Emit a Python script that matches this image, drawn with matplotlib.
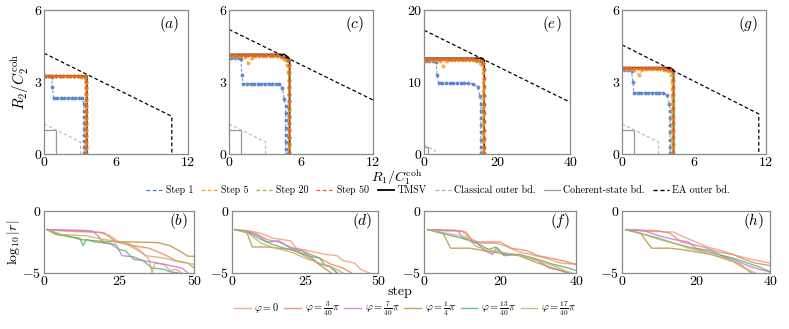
import matplotlib
matplotlib.use('Agg')
import matplotlib.pyplot as plt
from matplotlib.lines import Line2D

plt.rcParams['font.family'] = 'cmr10'
plt.rcParams['mathtext.fontset'] = 'cm'
plt.rcParams['axes.formatter.use_mathtext'] = True

# ---------------- top row data: (R1, R2) points ----------------
CLASSICAL = [(0, 1.25), (3.05, 0.5), (3.05, 0)]
COHERENT = [(0, 1.0), (1.0, 1.0), (1.0, 0)]

# panel (a)
A_EA = [(0, 4.2), (10.65, 1.57), (10.65, 0)]
A_TMSV = [(0, 3.27), (3.55, 3.27), (3.55, 0)]
A_STEP1 = [(0.15, 3.25), (0.45, 3.24), (0.65, 3.2), (0.7, 2.8), (0.8, 2.33), (1.1, 2.33),
           (1.4, 2.33), (1.7, 2.33), (2.0, 2.33), (2.3, 2.33), (2.6, 2.33), (2.9, 2.33),
           (3.15, 2.32), (3.3, 2.1), (3.35, 1.8), (3.35, 1.55), (3.35, 1.3), (3.35, 1.05),
           (3.35, 0.8), (3.35, 0.55), (3.35, 0.3), (3.35, 0.05)]
A_STEP5 = [(0.1, 3.25), (0.4, 3.25), (0.7, 3.24), (1.0, 3.25), (1.3, 3.23), (1.6, 3.25),
           (1.9, 3.24), (2.2, 3.25), (2.5, 3.24), (2.8, 3.23), (3.1, 3.22), (3.4, 3.15),
           (3.48, 2.95), (3.5, 2.7), (3.5, 2.45), (3.5, 2.2), (3.5, 1.95), (3.5, 1.7),
           (3.5, 1.45), (3.5, 1.2), (3.5, 0.95), (3.5, 0.7), (3.5, 0.45), (3.5, 0.2), (3.5, 0.02)]
A_STEP20 = [(0.1, 3.26), (0.4, 3.26), (0.7, 3.26), (1.0, 3.26), (1.3, 3.26), (1.6, 3.26),
            (1.9, 3.26), (2.2, 3.26), (2.5, 3.26), (2.8, 3.26), (3.1, 3.25), (3.4, 3.2),
            (3.52, 3.0), (3.52, 2.75), (3.52, 2.5), (3.52, 2.25), (3.52, 2.0), (3.52, 1.75),
            (3.52, 1.5), (3.52, 1.25), (3.52, 1.0), (3.52, 0.75), (3.52, 0.5), (3.52, 0.25), (3.52, 0.02)]
A_STEP50 = [(0.1, 3.27), (0.4, 3.27), (0.7, 3.27), (1.0, 3.27), (1.3, 3.27), (1.6, 3.27),
            (1.9, 3.27), (2.2, 3.27), (2.5, 3.27), (2.8, 3.27), (3.1, 3.27), (3.4, 3.25),
            (3.54, 3.05), (3.54, 2.8), (3.54, 2.55), (3.54, 2.3), (3.54, 2.05), (3.54, 1.8),
            (3.54, 1.55), (3.54, 1.3), (3.54, 1.05), (3.54, 0.8), (3.54, 0.55), (3.54, 0.3), (3.54, 0.05)]

# panel (c)
C_EA = [(0, 5.19), (12, 2.25)]
C_TMSV = [(0, 4.15), (4.6, 4.15), (4.9, 4.05), (5.05, 3.95), (5.05, 0)]
C_STEP1 = [(0.2, 4.0), (0.5, 4.0), (0.8, 4.0), (1.0, 3.95), (1.05, 3.3), (1.2, 2.93),
           (1.5, 2.93), (1.8, 2.93), (2.1, 2.93), (2.4, 2.93), (2.7, 2.93), (3.0, 2.93),
           (3.3, 2.93), (3.6, 2.93), (3.9, 2.92), (4.2, 2.9), (4.45, 2.75), (4.6, 2.3),
           (4.72, 2.0), (4.72, 1.7), (4.72, 1.4), (4.72, 1.1), (4.72, 0.8), (4.72, 0.5),
           (4.72, 0.2), (4.72, 0.02)]
C_STEP5 = [(0.1, 4.1), (0.4, 4.1), (0.7, 4.1), (1.0, 4.1), (1.3, 4.05), (1.6, 3.8),
           (1.9, 4.0), (2.2, 4.1), (2.5, 4.1), (2.8, 4.1), (3.1, 4.1), (3.4, 4.1),
           (3.7, 4.08), (4.0, 4.08), (4.3, 4.05), (4.6, 3.95), (4.85, 3.7), (4.95, 3.4),
           (4.97, 3.1), (4.97, 2.8), (4.97, 2.5), (4.97, 2.2), (4.97, 1.9), (4.97, 1.6),
           (4.97, 1.3), (4.97, 1.0), (4.97, 0.7), (4.97, 0.4), (4.97, 0.1)]
C_STEP20 = [(0.1, 4.12), (0.4, 4.12), (0.7, 4.12), (1.0, 4.12), (1.3, 4.12), (1.6, 4.12),
            (1.9, 4.12), (2.2, 4.12), (2.5, 4.12), (2.8, 4.12), (3.1, 4.12), (3.4, 4.12),
            (3.7, 4.11), (4.0, 4.1), (4.3, 4.08), (4.6, 4.02), (4.85, 3.9), (5.0, 3.65),
            (5.0, 3.35), (5.0, 3.05), (5.0, 2.75), (5.0, 2.45), (5.0, 2.15), (5.0, 1.85),
            (5.0, 1.55), (5.0, 1.25), (5.0, 0.95), (5.0, 0.65), (5.0, 0.35), (5.0, 0.05)]
C_STEP50 = [(0.1, 4.13), (0.4, 4.13), (0.7, 4.13), (1.0, 4.13), (1.3, 4.13), (1.6, 4.13),
            (1.9, 4.13), (2.2, 4.13), (2.5, 4.13), (2.8, 4.13), (3.1, 4.13), (3.4, 4.13),
            (3.7, 4.12), (4.0, 4.11), (4.3, 4.09), (4.6, 4.04), (4.9, 3.92), (5.02, 3.7),
            (5.02, 3.4), (5.02, 3.1), (5.02, 2.8), (5.02, 2.5), (5.02, 2.2), (5.02, 1.9),
            (5.02, 1.6), (5.02, 1.3), (5.02, 1.0), (5.02, 0.7), (5.02, 0.4), (5.02, 0.1)]

# panel (e)
E_EA = [(0, 17.2), (40, 7.2)]
E_TMSV = [(0, 13.3), (16.0, 13.3), (16.5, 13.0), (16.5, 0)]
E_STEP1 = [(0.5, 12.9), (1.5, 12.9), (2.5, 12.9), (3.3, 12.8), (3.6, 11.0), (4.0, 9.8),
           (5.0, 9.8), (6.0, 9.8), (7.0, 9.8), (8.0, 9.8), (9.0, 9.8), (10.0, 9.8),
           (11.0, 9.8), (12.0, 9.8), (13.5, 9.75), (14.8, 9.3), (15.3, 8.0), (15.6, 7.0),
           (15.6, 6.0), (15.6, 5.0), (15.6, 4.0), (15.6, 3.0), (15.6, 2.0), (15.6, 1.0), (15.6, 0.1)]
E_STEP5 = [(0.3, 13.1), (1.3, 13.1), (2.3, 13.1), (3.3, 13.1), (4.3, 12.9), (5.3, 12.2),
           (6.3, 12.9), (7.3, 13.1), (8.3, 13.1), (9.3, 13.1), (10.3, 13.1), (11.3, 13.1),
           (12.3, 13.05), (13.3, 13.0), (14.3, 12.9), (15.3, 12.7), (16.0, 12.3), (16.2, 11.2),
           (16.2, 10.0), (16.2, 8.8), (16.2, 7.6), (16.2, 6.4), (16.2, 5.2), (16.2, 4.0),
           (16.2, 2.8), (16.2, 1.6), (16.2, 0.4)]
E_STEP20 = [(0.3, 13.2), (1.3, 13.2), (2.3, 13.2), (3.3, 13.2), (4.3, 13.2), (5.3, 13.2),
            (6.3, 13.2), (7.3, 13.2), (8.3, 13.2), (9.3, 13.2), (10.3, 13.2), (11.3, 13.2),
            (12.3, 13.2), (13.3, 13.15), (14.3, 13.1), (15.3, 12.95), (16.1, 12.6), (16.4, 11.6),
            (16.4, 10.4), (16.4, 9.2), (16.4, 8.0), (16.4, 6.8), (16.4, 5.6), (16.4, 4.4),
            (16.4, 3.2), (16.4, 2.0), (16.4, 0.8)]
E_STEP50 = [(0.5, 13.22), (1.5, 13.22), (2.5, 13.22), (3.5, 13.22), (4.5, 13.22), (5.5, 13.22),
            (6.5, 13.22), (7.5, 13.22), (8.5, 13.22), (9.5, 13.22), (10.5, 13.22), (11.5, 13.22),
            (12.5, 13.2), (13.5, 13.18), (14.5, 13.12), (15.5, 13.0), (16.2, 12.7), (16.45, 11.8),
            (16.45, 10.6), (16.45, 9.4), (16.45, 8.2), (16.45, 7.0), (16.45, 5.8), (16.45, 4.6),
            (16.45, 3.4), (16.45, 2.2), (16.45, 1.0), (16.45, 0.1)]

# panel (g)
G_EA = [(0, 4.55), (11.4, 1.67), (11.4, 0)]
G_TMSV = [(0, 3.6), (4.0, 3.6), (4.3, 3.5), (4.3, 0)]
G_STEP1 = [(0.2, 3.5), (0.5, 3.5), (0.8, 3.45), (0.9, 3.0), (1.0, 2.56), (1.3, 2.56),
           (1.6, 2.56), (1.9, 2.56), (2.2, 2.56), (2.5, 2.56), (2.8, 2.56), (3.1, 2.56),
           (3.4, 2.55), (3.75, 2.45), (3.95, 2.1), (4.0, 1.8), (4.0, 1.5), (4.0, 1.2),
           (4.0, 0.9), (4.0, 0.6), (4.0, 0.3), (4.0, 0.05)]
G_STEP5 = [(0.1, 3.55), (0.4, 3.55), (0.7, 3.55), (1.0, 3.5), (1.4, 3.3), (1.7, 3.5),
           (2.0, 3.55), (2.3, 3.55), (2.6, 3.55), (2.9, 3.55), (3.2, 3.54), (3.5, 3.52),
           (3.8, 3.45), (4.05, 3.3), (4.15, 3.0), (4.15, 2.7), (4.15, 2.4), (4.15, 2.1),
           (4.15, 1.8), (4.15, 1.5), (4.15, 1.2), (4.15, 0.9), (4.15, 0.6), (4.15, 0.3), (4.15, 0.02)]
G_STEP20 = [(0.1, 3.57), (0.4, 3.57), (0.7, 3.57), (1.0, 3.57), (1.3, 3.57), (1.6, 3.57),
            (1.9, 3.57), (2.2, 3.57), (2.5, 3.57), (2.8, 3.57), (3.1, 3.57), (3.4, 3.56),
            (3.7, 3.54), (4.0, 3.48), (4.22, 3.3), (4.25, 3.0), (4.25, 2.7), (4.25, 2.4),
            (4.25, 2.1), (4.25, 1.8), (4.25, 1.5), (4.25, 1.2), (4.25, 0.9), (4.25, 0.6),
            (4.25, 0.3), (4.25, 0.02)]
G_STEP50 = [(0.1, 3.58), (0.4, 3.58), (0.7, 3.58), (1.0, 3.58), (1.3, 3.58), (1.6, 3.58),
            (1.9, 3.58), (2.2, 3.58), (2.5, 3.58), (2.8, 3.58), (3.1, 3.58), (3.4, 3.57),
            (3.7, 3.56), (4.0, 3.52), (4.25, 3.4), (4.28, 3.1), (4.28, 2.8), (4.28, 2.5),
            (4.28, 2.2), (4.28, 1.9), (4.28, 1.6), (4.28, 1.3), (4.28, 1.0), (4.28, 0.7),
            (4.28, 0.4), (4.28, 0.1)]

# ---------------- bottom row data: (step, log10|r|) ----------------
B_PHI0 = [(1, -1.5), (8, -1.65), (18, -1.7), (22, -2.0), (25, -2.5), (28, -2.6), (31, -3.0),
          (33, -3.4), (35, -3.9), (36, -5.0), (37, -4.2), (40, -4.3), (42, -4.8), (44, -4.7), (46, -5.0)]
B_PHI3 = [(1, -1.5), (10, -1.6), (20, -1.75), (24, -2.5), (30, -2.8), (35, -3.0), (40, -3.5),
          (44, -4.0), (48, -4.2), (50, -4.6)]
B_PHI7 = [(1, -1.5), (12, -1.55), (16, -1.6), (18, -2.0), (20, -2.6), (24, -2.7), (26, -3.6),
          (30, -3.7), (33, -4.0), (38, -4.2), (42, -4.4), (46, -4.6), (48, -5.0)]
B_PHI10 = [(1, -1.5), (4, -1.9), (8, -2.0), (12, -2.3), (20, -2.45), (30, -2.5), (38, -2.55),
           (42, -2.8), (45, -3.2), (48, -3.65), (50, -3.65)]
B_PHI13 = [(1, -1.5), (5, -1.9), (9, -2.1), (12, -2.2), (13, -2.8), (14, -2.3), (17, -2.5),
           (22, -2.6), (25, -3.1), (27, -3.2), (30, -3.9), (33, -4.0), (36, -4.6), (40, -4.7),
           (42, -4.9), (45, -5.0)]
B_PHI17 = [(1, -1.5), (6, -1.9), (14, -2.0), (20, -2.3), (26, -2.5), (30, -3.0), (34, -3.6),
           (40, -3.8), (45, -4.1), (50, -4.3)]

D_PHI0 = [(1, -1.5), (6, -1.6), (10, -1.8), (14, -2.2), (20, -2.4), (22, -3.0), (28, -3.3),
          (32, -3.5), (36, -3.6), (38, -4.0), (42, -4.2), (44, -4.7), (47, -5.0)]
D_PHI3 = [(1, -1.5), (8, -1.8), (12, -2.3), (16, -2.5), (20, -2.9), (24, -3.2), (30, -3.8),
          (34, -4.3), (38, -4.6), (41, -5.0)]
D_PHI7 = [(1, -1.5), (5, -1.6), (9, -2.0), (12, -2.5), (16, -2.4), (20, -3.0), (24, -3.2),
          (28, -3.9), (30, -4.3), (33, -4.4), (36, -5.0)]
D_PHI10 = [(1, -1.5), (5, -1.7), (7, -2.9), (12, -2.9), (16, -3.0), (20, -3.1), (24, -3.5),
           (28, -4.0), (31, -4.5), (34, -5.0)]
D_PHI13 = [(1, -1.5), (6, -1.8), (10, -2.3), (14, -2.7), (18, -3.0), (22, -3.2), (26, -3.6),
           (30, -3.8), (32, -4.4), (34, -4.5), (36, -5.0)]
D_PHI17 = [(1, -1.5), (5, -1.7), (10, -2.6), (15, -3.0), (20, -3.3), (25, -3.8), (30, -4.2),
           (35, -4.6), (38, -5.0)]

F_PHI0 = [(1, -1.5), (10, -1.6), (12, -2.2), (15, -2.6), (19, -2.6), (22, -2.9), (25, -3.3),
          (28, -3.5), (32, -3.8), (36, -4.2), (40, -4.3)]
F_PHI3 = [(1, -1.5), (8, -1.55), (11, -1.7), (13, -2.5), (20, -2.5), (23, -3.0), (27, -3.2),
          (30, -3.6), (35, -3.9), (40, -4.3)]
F_PHI7 = [(1, -1.5), (6, -1.6), (9, -1.6), (10, -2.1), (14, -2.6), (16, -3.2), (18, -3.5),
          (19, -3.0), (21, -3.6), (25, -3.5), (30, -4.0), (33, -4.6), (36, -4.8), (38, -5.0)]
F_PHI10 = [(1, -1.5), (5, -1.8), (7, -3.0), (12, -3.0), (16, -3.2), (20, -3.4), (25, -3.6),
           (30, -4.2), (34, -4.6), (38, -5.0)]
F_PHI13 = [(1, -1.5), (6, -1.9), (10, -2.2), (14, -2.6), (17, -3.1), (19, -2.9), (21, -3.5),
           (25, -3.5), (30, -3.9), (34, -4.3), (38, -4.6), (40, -4.8)]
F_PHI17 = [(1, -1.5), (6, -1.8), (11, -2.1), (14, -2.9), (18, -3.2), (22, -3.4), (26, -3.6),
           (30, -4.0), (34, -4.4), (37, -4.8), (39, -5.0)]

H_PHI0 = [(1, -1.5), (8, -1.65), (14, -1.7), (16, -2.0), (20, -2.5), (23, -2.9), (27, -3.2),
          (31, -3.6), (35, -3.9), (40, -4.2)]
H_PHI3 = [(1, -1.5), (10, -1.6), (13, -1.8), (16, -2.5), (22, -2.9), (26, -3.3), (30, -3.5),
          (33, -3.9), (36, -4.2), (40, -4.4)]
H_PHI7 = [(1, -1.5), (6, -1.6), (10, -2.0), (14, -2.3), (18, -2.5), (20, -3.0), (24, -3.2),
          (27, -3.6), (30, -3.9), (34, -4.4), (37, -4.7), (40, -4.9)]
H_PHI10 = [(1, -1.5), (5, -1.8), (8, -3.0), (13, -3.0), (16, -3.1), (20, -3.3), (24, -3.5),
           (28, -3.8), (32, -4.3), (35, -5.0)]
H_PHI13 = [(1, -1.5), (5, -1.8), (10, -2.2), (14, -2.6), (18, -2.9), (22, -3.2), (26, -3.5),
           (30, -3.8), (34, -4.2), (37, -4.5), (40, -4.9)]
H_PHI17 = [(1, -1.5), (6, -1.9), (10, -2.3), (14, -2.6), (18, -3.0), (22, -3.3), (26, -3.7),
           (30, -4.1), (33, -4.6), (36, -5.0)]

STEP_LABELS = ['Step 1', 'Step 5', 'Step 20', r'Step 50$\;$']
STEP_COLORS = ['#4c78c8', '#ffa020', '#8cc040', '#f05a28']
PHI_LABELS = [r'$\varphi=0$', r'$\varphi=\frac{3}{40}\pi$', r'$\varphi=\frac{7}{40}\pi$',
              r'$\varphi=\frac{1}{4}\pi$', r'$\varphi=\frac{13}{40}\pi$', r'$\varphi=\frac{17}{40}\pi$']
PHI_COLORS = ['#f0a080', '#e88a68', '#cc7ad8', '#b49a40', '#58b878', '#ccb070']

W, H = 789, 329
fig = plt.figure(figsize=(W / 100, H / 100), dpi=100)


def box(l, t, r, b):
    return [l / W, 1 - b / H, (r - l) / W, (b - t) / H]


def xy(pts):
    return [p[0] for p in pts], [p[1] for p in pts]


def style(ax):
    for s in ax.spines.values():
        s.set_color('#8a8a8a')
        s.set_linewidth(0.9)
    ax.tick_params(length=0, labelsize=10, pad=2)


top = [
    ('a', box(44, 10, 188, 154), 12, 6, A_EA, A_TMSV, [A_STEP1, A_STEP5, A_STEP20, A_STEP50]),
    ('c', box(229, 10, 373, 154), 12, 6, C_EA, C_TMSV, [C_STEP1, C_STEP5, C_STEP20, C_STEP50]),
    ('e', box(424, 10, 570, 154), 40, 20, E_EA, E_TMSV, [E_STEP1, E_STEP5, E_STEP20, E_STEP50]),
    ('g', box(622, 10, 766, 154), 12, 6, G_EA, G_TMSV, [G_STEP1, G_STEP5, G_STEP20, G_STEP50]),
]
for lab, pos, xm, ym, ea, tmsv, steps in top:
    ax = fig.add_axes(pos)
    ax.plot(*xy(COHERENT), color='#999999', lw=0.9)
    ax.plot(*xy(CLASSICAL), color='#b8b8b8', lw=0.8, ls=(0, (3, 2)))
    ax.plot(*xy(tmsv), color='black', lw=1.1)
    for pts, c in zip(steps, STEP_COLORS):
        ax.plot(*xy(pts), color=c, lw=0.7, ls=(0, (3, 2)), marker='o', ms=2.8,
                markeredgewidth=0, alpha=0.85)
    ax.plot(*xy(ea), color='black', lw=0.9, ls=(0, (3, 2)))
    ax.set_xlim(0, xm)
    ax.set_ylim(0, ym)
    ax.set_xticks([0, xm / 2, xm])
    ax.set_yticks([0, ym / 2, ym])
    ax.set_xticklabels([0, int(xm / 2), xm])
    ax.set_yticklabels([0, int(ym / 2), ym])
    ax.text(0.94, 0.9, r'$(%s)$' % lab, transform=ax.transAxes, ha='right', va='center', fontsize=11)
    style(ax)

bottom = [
    ('b', box(44, 211, 194, 273), 50, [B_PHI0, B_PHI3, B_PHI7, B_PHI10, B_PHI13, B_PHI17]),
    ('d', box(232, 211, 378, 273), 50, [D_PHI0, D_PHI3, D_PHI7, D_PHI10, D_PHI13, D_PHI17]),
    ('f', box(424, 211, 576, 273), 40, [F_PHI0, F_PHI3, F_PHI7, F_PHI10, F_PHI13, F_PHI17]),
    ('h', box(622, 211, 770, 273), 40, [H_PHI0, H_PHI3, H_PHI7, H_PHI10, H_PHI13, H_PHI17]),
]
for lab, pos, xm, series in bottom:
    ax = fig.add_axes(pos)
    for pts, c in zip(series, PHI_COLORS):
        ax.plot(*xy(pts), color=c, lw=1.0, alpha=0.85)
    ax.set_xlim(0, xm)
    ax.set_ylim(-5, 0)
    ax.set_xticks([0, xm / 2, xm])
    ax.set_xticklabels([0, int(xm / 2), xm])
    ax.set_yticks([-5, 0])
    ax.text(0.96, 0.84, r'$(%s)$' % lab, transform=ax.transAxes, ha='right', va='center', fontsize=11)
    style(ax)

fig.text(397 / W, 1 - 177 / H, r'$R_1/C_1^{\mathrm{coh}}$', ha='center', va='center', fontsize=10)
fig.text(20 / W, 1 - 82 / H, r'$R_2/C_2^{\mathrm{coh}}$', ha='center', va='center', rotation=90, fontsize=11)
fig.text(400 / W, 1 - 292 / H, 'step', ha='center', va='center', fontsize=10)
fig.text(14 / W, 1 - 242 / H, r'$\log_{10}|r|$', ha='center', va='center', rotation=90, fontsize=10)

h1 = [Line2D([], [], color=c, lw=0.9, ls=(0, (3, 2))) for c in STEP_COLORS]
h1 += [Line2D([], [], color='black', lw=1.3),
       Line2D([], [], color='#b0b0b0', lw=0.9, ls=(0, (3, 2))),
       Line2D([], [], color='#999999', lw=0.9),
       Line2D([], [], color='black', lw=1.0, ls=(0, (3, 2)))]
l1 = STEP_LABELS + ['TMSV', 'Classical outer bd.', 'Coherent-state bd.', 'EA outer bd.']
fig.legend(h1, l1, loc='center', bbox_to_anchor=(438 / W, 1 - 190 / H), ncol=8, frameon=False,
           fontsize=7.2, handlelength=1.6, handletextpad=0.35, columnspacing=0.8,
           borderpad=0.1)

h2 = [Line2D([], [], color=c, lw=1.0, alpha=0.85) for c in PHI_COLORS]
fig.legend(h2, PHI_LABELS, loc='center', bbox_to_anchor=(405 / W, 1 - 309 / H), ncol=6, frameon=False,
           fontsize=7.5, handlelength=1.6, handletextpad=0.35, columnspacing=0.45,
           borderpad=0.1)

fig.savefig('out.png', dpi=100)
